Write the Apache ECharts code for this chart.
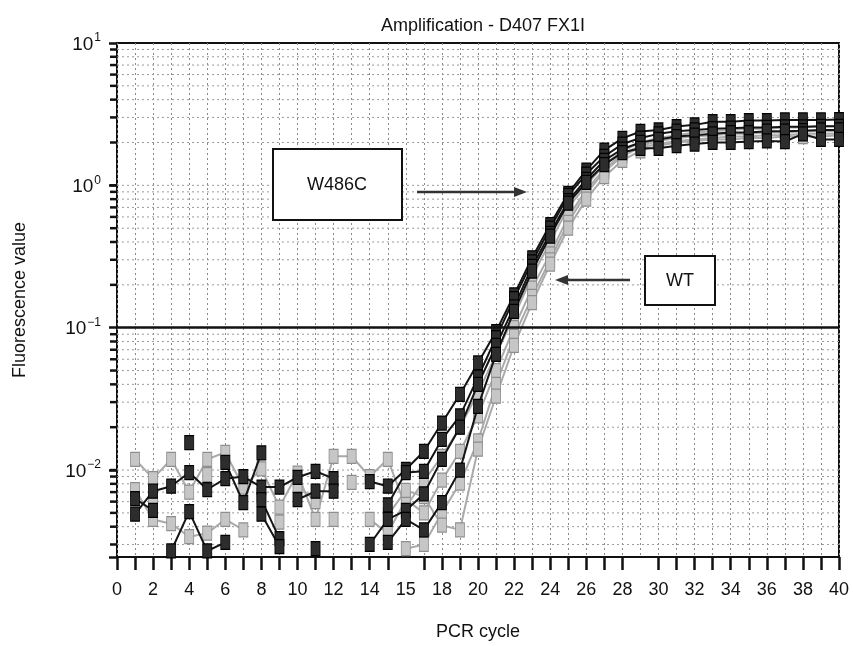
<!DOCTYPE html>
<html>
<head>
<meta charset="utf-8">
<title>Amplification - D407 FX1I</title>
<script src="https://cdn.jsdelivr.net/npm/echarts@6/dist/echarts.min.js"></script>
<style>
    html, body {margin: 0; padding: 0; background: #fff;}
    #main {width: 853px; height: 646px;}
</style>
</head>
<body>
<div id="main"></div>
<script>
let cycles = [];
for (let i = 0; i <= 40; i++) cycles.push(String(i));
// label positions (cycle) and the text printed there (the original prints "15" under 16)
let labelAt = ['0', '2', '4', '6', '8', '10', '12', '14', '16', '18', '20', '22', '24', '26', '28', '30', '32', '34', '36', '38', '40'];
let labelText = ['0', '2', '4', '6', '8', '10', '12', '14', '15', '18', '20', '22', '24', '26', '28', '30', '32', '34', '36', '38', '40'];
let noTickCycles = ['16', '29'];

let yMin = 0.00245, yMax = 10;
let threshold = 0.1;
let gridValues = [0.003, 0.004, 0.005, 0.006, 0.007, 0.008, 0.009, 0.01,
    0.02, 0.03, 0.04, 0.05, 0.06, 0.07, 0.08, 0.09,
    0.2, 0.3, 0.4, 0.5, 0.6, 0.7, 0.8, 0.9, 1,
    2, 3, 4, 5, 6, 7, 8, 9];

// W486C (black)
let w486c_1 = [null, 0.0049, 0.0071, 0.0077, 0.0096, 0.0073, 0.0087, 0.0090, 0.0076, 0.0076, 0.0089, 0.0098, 0.0087, null, 0.0083, 0.0077, 0.0101, 0.0135, 0.0214, 0.034, 0.0565, 0.094, 0.17, 0.31, 0.53, 0.88, 1.28, 1.77, 2.14, 2.39, 2.45, 2.59, 2.66, 2.8, 2.8, 2.85, 2.85, 2.88, 2.88, 2.88, 2.9];
let w486c_2 = [null, 0.0063, 0.0052, null, 0.0156, null, 0.0113, 0.0059, 0.0132, null, 0.0062, 0.0071, 0.0071, null, null, 0.0057, 0.0096, 0.0098, 0.0164, 0.024, 0.045, 0.085, 0.16, 0.29, 0.5, 0.85, 1.2, 1.6, 1.95, 2.15, 2.3, 2.4, 2.45, 2.5, 2.52, 2.55, 2.55, 2.58, 2.58, 2.6, 2.6];
let w486c_3 = [null, null, null, 0.0027, 0.0051, 0.0027, 0.0031, null, 0.0062, 0.0033, null, 0.0028, null, null, 0.0030, 0.0045, 0.0052, 0.0068, 0.0119, 0.02, 0.04, 0.075, 0.14, 0.27, 0.46, 0.78, 1.1, 1.5, 1.8, 2.0, 2.1, 2.2, 2.25, 2.3, 2.35, 2.35, 2.4, 2.4, 2.42, 2.45, 2.45];
let w486c_4 = [null, null, null, null, null, null, null, null, 0.0049, 0.0029, null, null, null, null, null, 0.0031, 0.0045, 0.0038, 0.0059, 0.0100, 0.028, 0.065, 0.13, 0.25, 0.44, 0.75, 1.05, 1.4, 1.7, 1.82, 1.82, 1.9, 1.95, 2.0, 2.0, 2.03, 2.05, 2.03, 2.3, 2.1, 2.1];

// WT (gray)
let wt_1 = [null, 0.0119, 0.0087, 0.0119, 0.0070, 0.0119, 0.0133, 0.0076, 0.0102, 0.0055, 0.0095, 0.0045, 0.0125, 0.0125, 0.0090, 0.0119, 0.0055, 0.0084, 0.0125, 0.02, 0.035, 0.065, 0.12, 0.23, 0.4, 0.7, 1.0, 1.4, 1.75, 2.0, 2.15, 2.25, 2.35, 2.4, 2.45, 2.5, 2.5, 2.55, 2.55, 2.6, 2.6];
let wt_2 = [null, 0.0073, 0.0045, 0.0042, 0.0034, 0.0036, 0.0045, 0.0038, null, 0.0043, null, null, 0.0045, null, 0.0045, 0.0036, 0.0062, 0.0050, 0.0085, 0.0135, 0.024, 0.05, 0.1, 0.19, 0.33, 0.6, 0.93, 1.3, 1.65, 1.9, 2.05, 2.15, 2.2, 2.25, 2.3, 2.3, 2.35, 2.35, 2.4, 2.4, 2.4];
let wt_3 = [null, null, 0.0059, null, null, 0.0093, null, null, 0.0066, null, 0.0079, 0.0060, null, 0.0082, null, null, 0.0028, 0.0030, 0.0050, 0.0081, 0.016, 0.04, 0.087, 0.166, 0.3, 0.55, 0.88, 1.25, 1.6, 1.85, 1.95, 2.05, 2.1, 2.15, 2.2, 2.2, 2.25, 2.25, 2.3, 2.3, 2.3];
let wt_4 = [null, null, null, null, null, null, null, null, null, null, null, null, null, null, null, 0.0048, 0.0072, 0.0065, 0.0041, 0.0038, 0.014, 0.033, 0.075, 0.15, 0.28, 0.5, 0.8, 1.15, 1.5, 1.75, 1.9, 2.0, 2.05, 2.1, 2.1, 2.15, 2.15, 2.2, 2.2, 2.2, 2.25];

let fontFamily = '"Liberation Sans", Arial, sans-serif';
let myChart = echarts.init(document.getElementById('main'));

let powLabel = (v) => {  // 10 with superscript exponent
    let lg = Math.log10(v);
    let e = Math.round(lg);
    if (Math.abs(lg - e) > 1e-6) return '';
    return '{b|10}{s|' + (e < 0 ? '\u2212' + (-e) : e) + '}';
};

let blackSeries = (name, data) => {
    return {
        name: name,
        type: 'line',
        data: data,
        symbol: 'rect',
        symbolSize: [9, 14],
        showAllSymbol: true,
        z: 4,
        silent: true,
        animation: false,
        itemStyle: {color: '#2d2d2d', borderColor: '#000', borderWidth: 1},
        lineStyle: {color: '#151515', width: 2}
    }
};

let graySeries = (name, data) => {
    return {
        name: name,
        type: 'line',
        data: data,
        symbol: 'rect',
        symbolSize: [9, 14],
        showAllSymbol: true,
        z: 3,
        silent: true,
        animation: false,
        itemStyle: {color: '#c6c6c6', borderColor: '#8e8e8e', borderWidth: 1},
        lineStyle: {color: '#aaaaaa', width: 2}
    }
};

let series = [
    {   // minor log grid lines + left ticks
        type: 'custom',
        silent: true,
        animation: false,
        z: 1,
        data: gridValues.map(v => [0, v]),
        encode: {x: 0, y: 1},
        renderItem: (params, api) => {
            let cs = params.coordSys;
            let y = api.coord([0, api.value(1)])[1];
            return {
                type: 'group',
                children: [
                    {type: 'line', shape: {x1: cs.x, y1: y, x2: cs.x + cs.width, y2: y},
                        style: {stroke: '#9a9a9a', lineWidth: 1, lineDash: [2, 3]}},
                    {type: 'line', shape: {x1: cs.x - 7, y1: y, x2: cs.x, y2: y},
                        style: {stroke: '#111', lineWidth: 2.5}}
                ]
            };
        }
    },
    graySeries('WT 1', wt_1),
    graySeries('WT 2', wt_2),
    graySeries('WT 3', wt_3),
    graySeries('WT 4', wt_4),
    blackSeries('W486C 1', w486c_1),
    blackSeries('W486C 2', w486c_2),
    blackSeries('W486C 3', w486c_3),
    blackSeries('W486C 4', w486c_4)
];
series[5].markLine = {  // threshold
    silent: true,
    symbol: 'none',
    animation: false,
    label: {show: false},
    lineStyle: {color: '#111', width: 2.5, type: 'solid'},
    data: [{yAxis: threshold}]
};

let arrow = (x1, x2, y) => {  // annotation arrow
    let dir = x2 > x1 ? 1 : -1;
    return [
        {type: 'line', z: 100, shape: {x1: x1, y1: y, x2: x2 - dir * 10, y2: y},
            style: {stroke: '#333', lineWidth: 2.5}},
        {type: 'polygon', z: 100, shape: {points: [[x2, y], [x2 - dir * 13, y - 5], [x2 - dir * 13, y + 5]]},
            style: {fill: '#333'}}
    ];
};

myChart.setOption({
    backgroundColor: '#fff',
    animation: false,
    title: {
        text: 'Amplification - D407 FX1I',
        left: 478,
        top: 12,
        textAlign: 'center',
        textStyle: {fontFamily: fontFamily, fontSize: 18, fontWeight: 'normal', color: '#111'}
    },
    grid: {
        left: 117, right: 14, top: 43, bottom: 89,
        show: true, borderColor: '#111', borderWidth: 2, backgroundColor: '#fff'
    },
    xAxis: {
        type: 'category',
        data: cycles,
        boundaryGap: false,
        name: 'PCR cycle',
        nameLocation: 'middle',
        nameGap: 66,
        nameTextStyle: {fontFamily: fontFamily, fontSize: 18, color: '#111'},
        axisLine: {lineStyle: {color: '#111', width: 2}},
        axisTick: {
            show: true, inside: false, length: 13,
            interval: (idx, val) => noTickCycles.indexOf(val) < 0,
            lineStyle: {color: '#111', width: 2.5}
        },
        axisLabel: {
            margin: 24,
            interval: (idx, val) => labelAt.indexOf(val) >= 0,
            formatter: (val) => labelText[labelAt.indexOf(val)],
            fontFamily: fontFamily, fontSize: 18, color: '#111'
        },
        splitLine: {
            show: true, interval: 0,
            lineStyle: {color: '#8a8a8a', width: 1, type: [2, 3]}
        }
    },
    yAxis: {
        type: 'log',
        min: yMin,
        max: yMax,
        name: 'Fluorescence value',
        nameLocation: 'middle',
        nameGap: 88,
        nameTextStyle: {fontFamily: fontFamily, fontSize: 18, color: '#111'},
        axisLine: {lineStyle: {color: '#111', width: 2}},
        axisTick: {show: true, inside: false, length: 8, lineStyle: {color: '#111', width: 2.5}},
        axisLabel: {
            margin: 16,
            formatter: powLabel,
            rich: {
                b: {fontFamily: fontFamily, fontSize: 19, color: '#111', verticalAlign: 'bottom'},
                s: {fontFamily: fontFamily, fontSize: 12, color: '#111', verticalAlign: 'bottom', padding: [0, 0, 10, 1]}
            }
        },
        splitLine: {show: false}
    },
    graphic: [
        {type: 'rect', z: 100, shape: {x: 273, y: 149, width: 129, height: 71},
            style: {fill: '#fff', stroke: '#111', lineWidth: 2}},
        {type: 'text', z: 101, x: 337, y: 185,
            style: {text: 'W486C', fontFamily: fontFamily, fontSize: 18, fill: '#111', align: 'center', verticalAlign: 'middle'}},
        {type: 'rect', z: 100, shape: {x: 645, y: 256, width: 70, height: 49},
            style: {fill: '#fff', stroke: '#111', lineWidth: 2}},
        {type: 'text', z: 101, x: 680, y: 281,
            style: {text: 'WT', fontFamily: fontFamily, fontSize: 18, fill: '#111', align: 'center', verticalAlign: 'middle'}}
    ].concat(arrow(417, 527, 192), arrow(630, 555, 280)),
    series: series
});
</script>
</body>
</html>
